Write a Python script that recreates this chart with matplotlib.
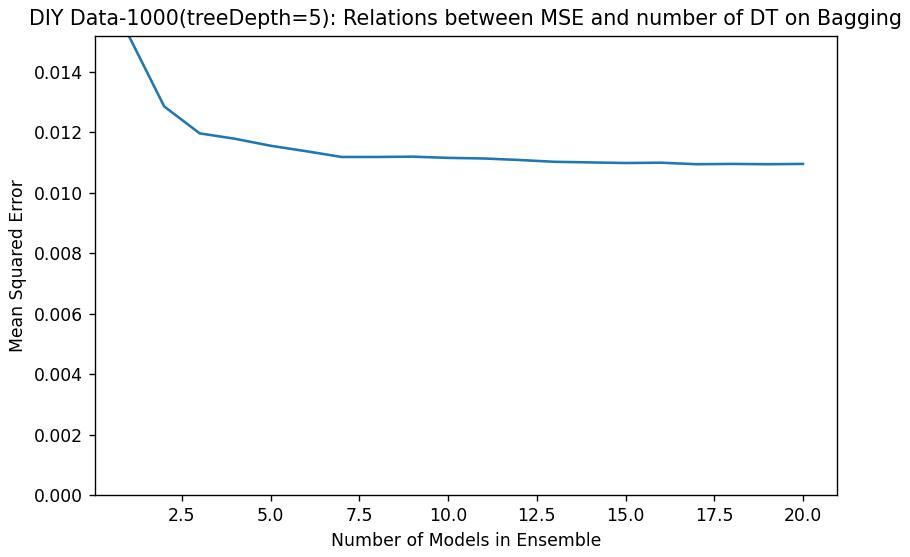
import numpy as np
import matplotlib
matplotlib.use("Agg")
import matplotlib.pyplot as plt

# ----------------------------------
# Data
# ----------------------------------

n_models = list(range(1, 21))

mse = [
    0.01519, 0.01285, 0.01196, 0.01178, 0.01155,
    0.01137, 0.01118, 0.01118, 0.01119, 0.01115,
    0.01113, 0.01108, 0.01102, 0.01100, 0.01098,
    0.01099, 0.01094, 0.01095, 0.01094, 0.01095,
]

# ----------------------------------
# Plot
# ----------------------------------

DPI = 124

fig = plt.figure(figsize=(910 / DPI, 557 / DPI), dpi=DPI)
ax = fig.add_axes([0.1044, 0.111, 0.815, 0.825])

ax.plot(n_models, mse)

ax.set_ylim(0, max(mse))
ax.set_xlabel("Number of Models in Ensemble")
ax.set_ylabel("Mean Squared Error")
ax.set_title(
    "DIY Data-1000(treeDepth=5): Relations between MSE and number of DT on Bagging"
)

fig.savefig("out.png", dpi=DPI)
